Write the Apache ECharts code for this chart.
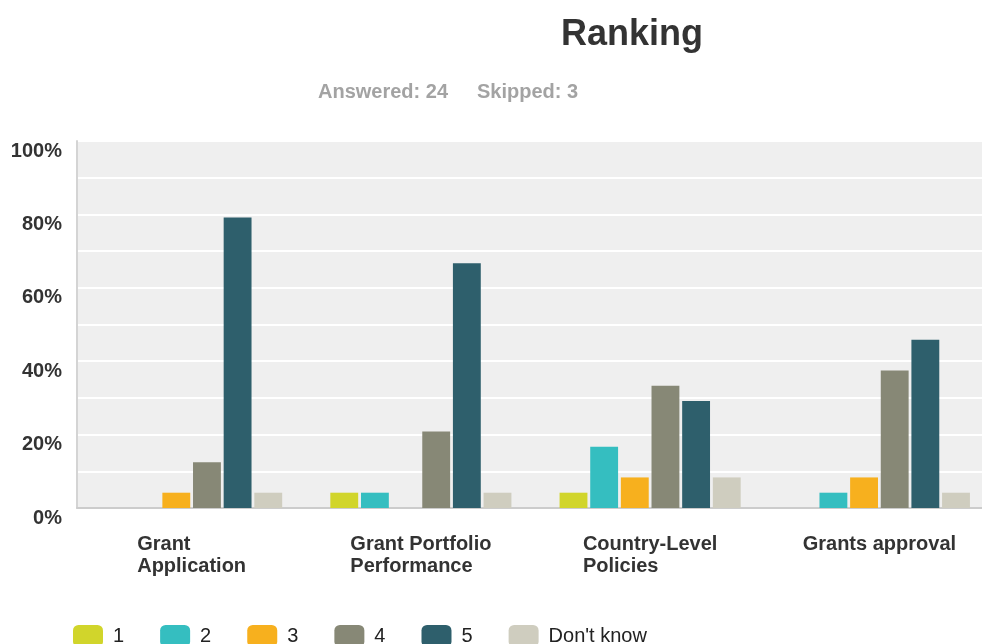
<!DOCTYPE html>
<html>
<head>
<meta charset="utf-8">
<script src="https://cdn.jsdelivr.net/npm/echarts@6/dist/echarts.min.js"></script>
<style>
  html, body { margin: 0; padding: 0; background: #fff; }
  #chart { width: 982px; height: 644px; }
</style>
</head>
<body>
<div id="chart"></div>
<script>
var categories = ['Grant\nApplication', 'Grant Portfolio\nPerformance', 'Country-Level\nPolicies', 'Grants approval'];
var seriesNames = ['1', '2', '3', '4', '5', "Don't know"];
var colors = ['#d1d52b', '#35bec0', '#f7b01e', '#878876', '#2e5f6c', '#cfcdbf'];
// percent of respondents per rank, one array per rank
var rank1 = [0, 4.17, 4.17, 0];
var rank2 = [0, 4.17, 16.67, 4.17];
var rank3 = [4.17, 0, 8.33, 8.33];
var rank4 = [12.5, 20.83, 33.33, 37.5];
var rank5 = [79.17, 66.67, 29.17, 45.83];
var dontKnow = [4.17, 4.17, 8.33, 4.17];
var answered = 24;
var skipped = 3;

var font = "'Liberation Sans', Arial, sans-serif";
var values = [rank1, rank2, rank3, rank4, rank5, dontKnow];

var chartDom = document.getElementById('chart');
var myChart = echarts.init(chartDom);
var option;

var series = [];
for (var i = 0; i < seriesNames.length; i++) {
  series.push({
    name: seriesNames[i],
    type: 'bar',
    data: values[i],
    barGap: '10%',
    barCategoryGap: '21%',
    itemStyle: { color: colors[i] }
  });
}

option = {
  animation: false,
  color: colors,
  title: [
    {
      text: 'Ranking',
      left: 556,
      top: 12,
      textStyle: { fontFamily: font, fontSize: 36, fontWeight: 'bold', color: '#333' }
    },
    {
      text: 'Answered: ' + answered,
      left: 313,
      top: 77,
      textStyle: { fontFamily: font, fontSize: 20, fontWeight: 'bold', color: '#a3a3a3' }
    },
    {
      text: 'Skipped: ' + skipped,
      left: 472,
      top: 77,
      textStyle: { fontFamily: font, fontSize: 20, fontWeight: 'bold', color: '#a3a3a3' }
    }
  ],
  legend: {
    data: seriesNames,
    left: 73,
    top: 625,
    padding: 0,
    icon: 'roundRect',
    itemWidth: 30,
    itemHeight: 22,
    itemGap: 36,
    textStyle: { fontFamily: font, fontSize: 20, color: '#222', padding: [0, 0, 0, 5] }
  },
  grid: {
    left: 77,
    right: -12,
    top: 141,
    bottom: 136,
    outerBoundsMode: 'none',
    show: true,
    backgroundColor: '#efefef',
    borderWidth: 0
  },
  xAxis: {
    type: 'category',
    data: categories,
    axisTick: { show: false },
    axisLine: { show: true, lineStyle: { color: '#cccccc', width: 2 } },
    axisLabel: {
      interval: 0,
      margin: 25,
      formatter: function (v) {
        return v.split('\n').map(function (s) { return '{a|' + s + '}'; }).join('\n');
      },
      rich: {
        a: { align: 'left', fontFamily: font, fontSize: 20, fontWeight: 'bold', color: '#333', lineHeight: 22 }
      }
    }
  },
  yAxis: {
    type: 'value',
    min: 0,
    max: 100,
    interval: 10,
    axisLine: { show: true, lineStyle: { color: '#d4d4d4', width: 2 } },
    axisTick: { show: false },
    splitLine: { show: true, lineStyle: { color: '#ffffff', width: 2 } },
    axisLabel: {
      margin: 15,
      verticalAlign: 'top',
      fontFamily: font,
      fontSize: 20,
      fontWeight: 'bold',
      color: '#333',
      formatter: function (v) { return v % 20 === 0 ? v + '%' : ''; }
    }
  },
  series: series
};

option && myChart.setOption(option);
</script>
</body>
</html>
